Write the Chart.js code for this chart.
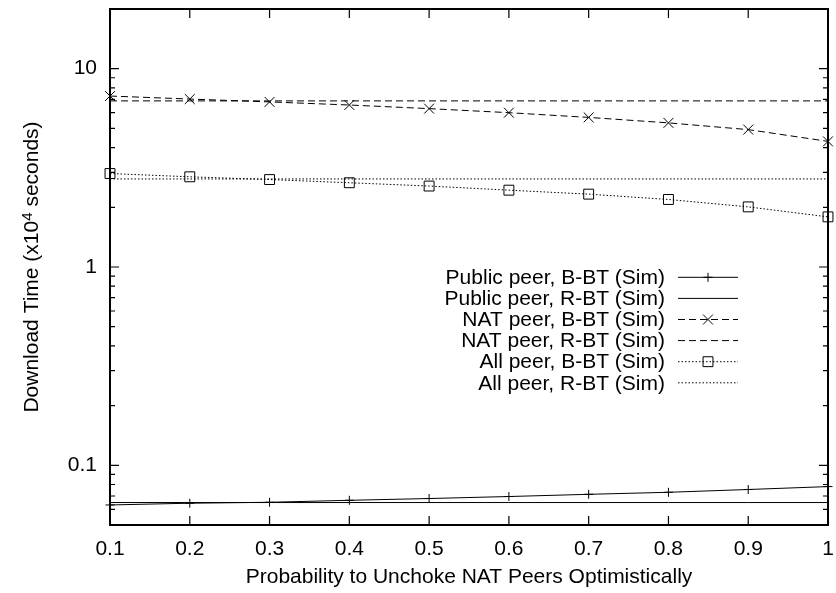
<!DOCTYPE html>
<html>
<head>
<meta charset="utf-8">
<script src="https://cdn.jsdelivr.net/npm/chart.js@4.4.1/dist/chart.umd.min.js"></script>
<style>
html, body { margin: 0; padding: 0; background: #fff; }
canvas { display: block; }
</style>
</head>
<body>
<canvas id="chart" width="836" height="593"></canvas>
<script>
// values (x10^4 seconds)
const probs = [0.1, 0.2, 0.3, 0.4, 0.5, 0.6, 0.7, 0.8, 0.9, 1.0];
const xTicks = [0.1, 0.2, 0.3, 0.4, 0.5, 0.6, 0.7, 0.8, 0.9, 1];
const yTicks = [0.1, 1, 10];

const seriesNames = [
    'Public peer, B-BT (Sim)',
    'Public peer, R-BT (Sim)',
    'NAT peer, B-BT (Sim)',
    'NAT peer, R-BT (Sim)',
    'All peer, B-BT (Sim)',
    'All peer, R-BT (Sim)'
];

const publicBBT = [0.0631, 0.0644, 0.0651, 0.0666, 0.0680, 0.0696, 0.0714, 0.0731, 0.0755, 0.0781];
const publicRBT = [0.0649, 0.0649, 0.0649, 0.0649, 0.0649, 0.0649, 0.0649, 0.0649, 0.0649, 0.0649];
const natBBT = [7.28, 7.03, 6.80, 6.56, 6.29, 6.00, 5.68, 5.33, 4.93, 4.30];
const natRBT = [6.88, 6.88, 6.88, 6.88, 6.88, 6.88, 6.88, 6.88, 6.88, 6.88];
const allBBT = [2.96, 2.85, 2.76, 2.66, 2.56, 2.44, 2.33, 2.19, 2.01, 1.79];
const allRBT = [2.78, 2.78, 2.78, 2.78, 2.78, 2.78, 2.78, 2.78, 2.78, 2.78];

const FONT = "'Liberation Sans', Arial, Helvetica, sans-serif";

const styles = [
    { dash: [], marker: 'cross', r: 4.5 },
    { dash: [], marker: false, r: 0 },
    { dash: [7, 4], marker: 'crossRot', r: 7 },
    { dash: [7, 4], marker: false, r: 0 },
    { dash: [1.5, 2], marker: 'rect', r: 7 },
    { dash: [1.5, 2], marker: false, r: 0 }
];

function pts(vals) {
    return vals.map((v, i) => ({ x: probs[i], y: v }));
}

const allSeries = [publicBBT, publicRBT, natBBT, natRBT, allBBT, allRBT];

const datasets = allSeries.map((vals, i) => ({
    label: seriesNames[i],
    data: pts(vals),
    borderColor: '#000',
    borderWidth: 1,
    borderDash: styles[i].dash,
    pointStyle: styles[i].marker || 'circle',
    pointRadius: styles[i].r,
    pointHoverRadius: styles[i].r,
    pointBorderColor: '#000',
    pointBackgroundColor: 'rgba(0,0,0,0)',
    pointBorderWidth: 1,
    tension: 0,
    clip: false
}));

function drawMarker(ctx, kind, x, y, r) {
    ctx.beginPath();
    if (kind === 'cross') {
        ctx.moveTo(x - r, y); ctx.lineTo(x + r, y);
        ctx.moveTo(x, y - r); ctx.lineTo(x, y + r);
    } else if (kind === 'crossRot') {
        const o = r * Math.SQRT1_2;
        ctx.moveTo(x - o, y - o); ctx.lineTo(x + o, y + o);
        ctx.moveTo(x - o, y + o); ctx.lineTo(x + o, y - o);
    } else if (kind === 'rect') {
        const s = r * Math.SQRT1_2;
        ctx.rect(x - s, y - s, 2 * s, 2 * s);
    }
    ctx.stroke();
}

const frameAndLegend = {
    id: 'frameAndLegend',
    afterDraw(chart) {
        const { ctx, chartArea: a, scales: { x, y } } = chart;
        ctx.save();
        ctx.strokeStyle = '#000';
        ctx.setLineDash([]);

        // inward ticks, mirrored on the opposite side
        ctx.lineWidth = 1.2;
        ctx.beginPath();
        xTicks.forEach(v => {
            const px = x.getPixelForValue(v);
            ctx.moveTo(px, a.bottom); ctx.lineTo(px, a.bottom - 9);
            ctx.moveTo(px, a.top); ctx.lineTo(px, a.top + 9);
        });
        yTicks.forEach(v => {
            const py = y.getPixelForValue(v);
            ctx.moveTo(a.left, py); ctx.lineTo(a.left + 9, py);
            ctx.moveTo(a.right, py); ctx.lineTo(a.right - 9, py);
        });
        for (let e = -2; e <= 1; e++) {
            for (let m = 2; m <= 9; m++) {
                const v = m * Math.pow(10, e);
                if (v < y.min * 0.999 || v > y.max * 1.001) continue;
                const py = y.getPixelForValue(v);
                ctx.moveTo(a.left, py); ctx.lineTo(a.left + 5, py);
                ctx.moveTo(a.right, py); ctx.lineTo(a.right - 5, py);
            }
        }
        ctx.stroke();

        // frame
        ctx.lineWidth = 2;
        ctx.strokeRect(a.left, a.top, a.right - a.left, a.bottom - a.top);

        // key
        ctx.font = '21px ' + FONT;
        ctx.fillStyle = '#000';
        ctx.textAlign = 'right';
        ctx.textBaseline = 'middle';
        chart.data.datasets.forEach((ds, i) => {
            const ry = 277.3 + i * 21.1;
            ctx.fillText(ds.label, 665, ry + 1);
            ctx.lineWidth = 1;
            ctx.setLineDash(styles[i].dash);
            ctx.beginPath();
            ctx.moveTo(678, ry); ctx.lineTo(738, ry);
            ctx.stroke();
            ctx.setLineDash([]);
            if (styles[i].marker) drawMarker(ctx, styles[i].marker, 708, ry, styles[i].r);
        });

        // y axis title with superscript
        const p1 = 'Download Time (x10', sup = '4', p3 = ' seconds)';
        ctx.textAlign = 'left';
        ctx.textBaseline = 'alphabetic';
        ctx.font = '21px ' + FONT;
        const w1 = ctx.measureText(p1).width, w3 = ctx.measureText(p3).width;
        ctx.font = '15px ' + FONT;
        const w2 = ctx.measureText(sup).width;
        const total = w1 + w2 + w3;
        ctx.translate(38, (a.top + a.bottom) / 2);
        ctx.rotate(-Math.PI / 2);
        let sx = -total / 2;
        ctx.font = '21px ' + FONT;
        ctx.fillText(p1, sx, 0);
        sx += w1;
        ctx.font = '15px ' + FONT;
        ctx.fillText(sup, sx, -6.5);
        sx += w2;
        ctx.font = '21px ' + FONT;
        ctx.fillText(p3, sx, 0);

        ctx.restore();
    }
};

new Chart(document.getElementById('chart'), {
    type: 'line',
    data: { datasets: datasets },
    options: {
        responsive: false,
        animation: false,
        devicePixelRatio: 1,
        layout: { padding: { top: 9, right: 4, left: 0, bottom: 0 } },
        plugins: {
            legend: { display: false },
            tooltip: { enabled: false }
        },
        scales: {
            x: {
                type: 'linear',
                min: 0.1,
                max: 1,
                afterBuildTicks: s => { s.ticks = xTicks.map(v => ({ value: v })); },
                afterFit: s => {
                    s.height = 68;
                    s.paddingLeft = 0;
                    s.paddingRight = 0;
                },
                grid: { display: false, drawTicks: false },
                border: { display: false },
                ticks: {
                    autoSkip: false,
                    maxRotation: 0,
                    padding: 12,
                    color: '#000',
                    font: { family: FONT, size: 21 },
                    callback: v => String(v)
                },
                title: {
                    display: true,
                    text: 'Probability to Unchoke NAT Peers Optimistically',
                    color: '#000',
                    font: { family: FONT, size: 21, lineHeight: 1.2 },
                    padding: { top: 0, bottom: 3 }
                }
            },
            y: {
                type: 'logarithmic',
                min: 0.05,
                max: 20,
                afterBuildTicks: s => { s.ticks = yTicks.map(v => ({ value: v, major: true })); },
                afterFit: s => {
                    s.width = 110;
                    s.paddingTop = 0;
                    s.paddingBottom = 0;
                },
                grid: { display: false, drawTicks: false },
                border: { display: false },
                ticks: {
                    autoSkip: false,
                    padding: 13,
                    color: '#000',
                    font: { family: FONT, size: 21 },
                    callback: v => String(v)
                }
            }
        }
    },
    plugins: [frameAndLegend]
});
</script>
</body>
</html>
